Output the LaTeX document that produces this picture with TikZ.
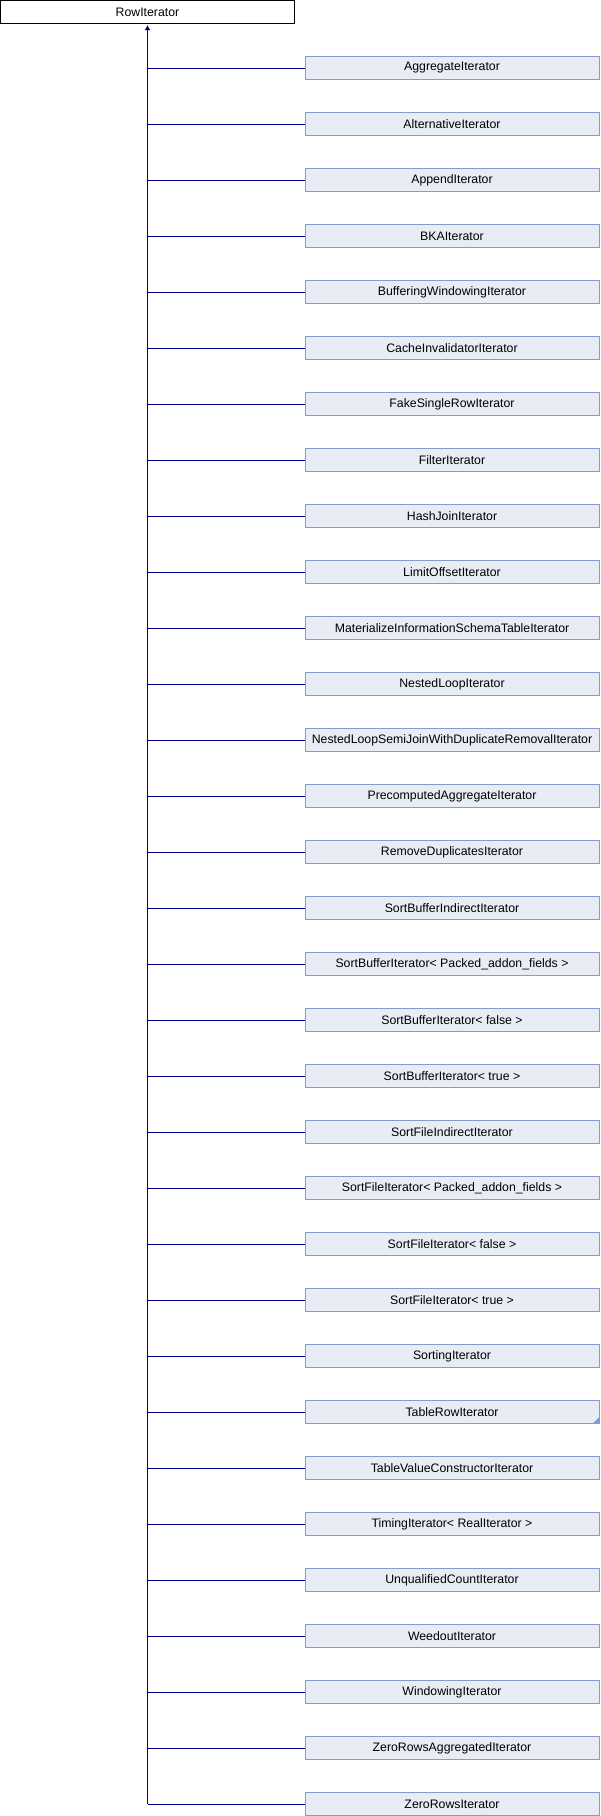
\documentclass[tikz,border=0pt]{standalone}
\usepackage{fontspec}
\setmainfont{Liberation Sans}
\usetikzlibrary{arrows.meta}
\definecolor{boxfill}{RGB}{232,236,244}
\definecolor{boxborder}{RGB}{132,155,205}
\definecolor{linkcol}{RGB}{0,0,140}
\tikzset{
  rootbox/.style={draw=black, fill=white, line width=0.9pt, minimum width=294pt, minimum height=23pt, inner sep=0pt, font=\fontsize{12.3}{14}\selectfont},
  childbox/.style={draw=boxborder, fill=boxfill, line width=0.9pt, minimum width=294pt, minimum height=23pt, inner sep=0pt, font=\fontsize{12.3}{14}\selectfont},
  link/.style={draw=linkcol, line width=1pt},
}
\begin{document}
\begin{tikzpicture}[x=1pt,y=-1pt]
\useasboundingbox (0,0) rectangle (600,1816);
\node[rootbox] (root) at (147.5,12) {RowIterator};
\foreach \n [count=\i from 0] in {AggregateIterator,AlternativeIterator,AppendIterator,BKAIterator,BufferingWindowingIterator,CacheInvalidatorIterator,FakeSingleRowIterator,FilterIterator,HashJoinIterator,LimitOffsetIterator,MaterializeInformationSchemaTableIterator,NestedLoopIterator,NestedLoopSemiJoinWithDuplicateRemovalIterator,PrecomputedAggregateIterator,RemoveDuplicatesIterator,SortBufferIndirectIterator,SortBufferIterator< Packed\_addon\_fields >,SortBufferIterator< false >,SortBufferIterator< true >,SortFileIndirectIterator,SortFileIterator< Packed\_addon\_fields >,SortFileIterator< false >,SortFileIterator< true >,SortingIterator,TableRowIterator,TableValueConstructorIterator,TimingIterator< RealIterator >,UnqualifiedCountIterator,WeedoutIterator,WindowingIterator,ZeroRowsAggregatedIterator,ZeroRowsIterator}{
  \node[childbox] (c\i) at (452,68+56*\i) {\n};
  \draw[link] (c\i.west) -- (c\i.west -| root.south);
}
\coordinate (bottom) at (c31.west -| root.south);
\draw[link, -{Latex[length=5pt,width=6pt]}, shorten >=1.2pt] (bottom) -- (root.south);
\fill[boxborder] ([xshift=-7pt]c24.south east) -- (c24.south east) -- ([yshift=7pt]c24.south east) -- cycle;
\end{tikzpicture}
\end{document}
